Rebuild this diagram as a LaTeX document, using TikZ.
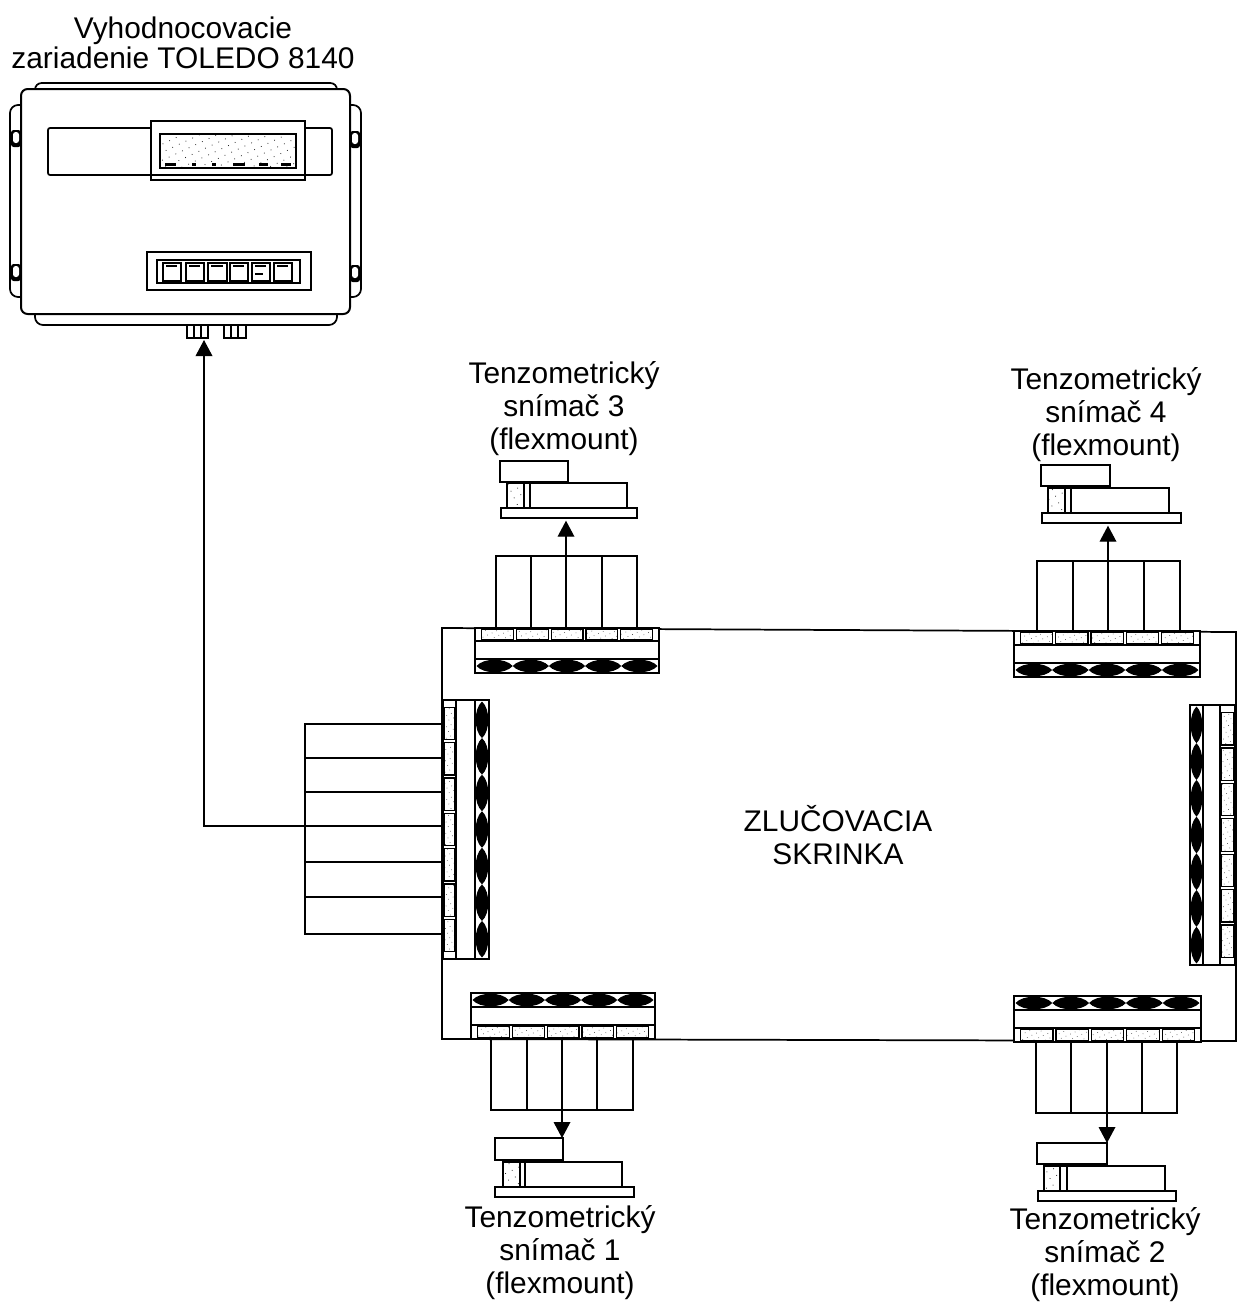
\documentclass[tikz,border=0pt]{standalone}
\usepackage{fontspec}
\setmainfont{Liberation Sans}
\usetikzlibrary{fit,arrows.meta,patterns.meta}
\tikzset{
  px/.style={x=.75pt,y=-.75pt},
  ln/.style={draw=black,line width=1.3pt},
  thin ln/.style={draw=black,line width=.9pt},
  bx/.style={ln,inner sep=0pt,outer sep=0pt,rectangle},
  speck/.style={pattern={Dots[distance=3.8pt,radius=.32pt,angle=25]},pattern color=black!80},
  sparse speck/.style={pattern={Dots[distance=5.5pt,radius=.42pt,angle=25]},pattern color=black!85},
  wire/.style={draw=black,line width=1pt},
  feed/.style={wire,-{Triangle[length=12pt,width=12.5pt]}},
  lbl/.style={align=center,font=\fontsize{22.4pt}{24.7pt}\selectfont,inner sep=0pt,text=black}
}
% terminal strip: #1,#2 long axis range; #3 outer edge, #4 cell/blank edge, #5 blank/oval edge, #6 oval outer edge
% #7 number of cells, #8 cell inset at the ends
\newcommand{\tstrip}[8]{%
  \draw[ln,fill=white] (#1,#3) rectangle (#2,#6);
  \draw[ln] (#1,#4) -- (#2,#4);
  \draw[ln] (#1,#5) -- (#2,#5);
  \pgfmathsetmacro{\pitch}{(#2-#1-2*#8)/#7}
  \foreach \k in {1,...,#7}{
    \pgfmathsetmacro{\ca}{#1+#8+(\k-1)*\pitch+1.5}
    \pgfmathsetmacro{\cb}{#1+#8+\k*\pitch-1.5}
    \pgfmathsetmacro{\oa}{#1+1.5+(\k-1)*(#2-#1-3)/#7}
    \pgfmathsetmacro{\ob}{#1+1.5+\k*(#2-#1-3)/#7}
    \pgfmathsetmacro{\om}{(#5+#6)/2}
    \pgfmathsetmacro{\xa}{\oa+.2*(\ob-\oa)}
    \pgfmathsetmacro{\xb}{\oa+.8*(\ob-\oa)}
    \pgfmathsetmacro{\cu}{\om-(#6-#5)*.6}
    \pgfmathsetmacro{\cd}{\om+(#6-#5)*.6}
    \pgfmathsetmacro{\ia}{#3+0.1*(#4-#3)}
    \pgfmathsetmacro{\ib}{#4-0.1*(#4-#3)}
    \draw[thin ln,speck] (\ca,\ia) rectangle (\cb,\ib);
    \fill[black] (\oa,\om) .. controls (\xa,\cu) and (\xb,\cu) .. (\ob,\om)
       .. controls (\xb,\cd) and (\xa,\cd) .. (\oa,\om) -- cycle;
  }
}
% flexmount sensor body and base
\newcommand{\sensor}[9]{%
  % #1 id, #2 x-col0, #3 x-col-divider, #4 x-main0, #5 x-main1, #6 y-top of main, #7 y-base-top, #8 base x0, #9 base x1
  \draw[ln,sparse speck] (#2,#6) rectangle (#3,#7);
  \draw[ln,fill=white] (#3,#6) rectangle (#4,#7);
  \draw[ln,fill=white] (#4,#6) rectangle (#5,#7);
  \node[bx,fill=white,fit={(#8,#7)(#9,#7+10)}] (base#1) {};
}
\begin{document}
\begin{tikzpicture}[px]
\useasboundingbox (0,0) rectangle (1237,1304);
\fill[white] (0,0) rectangle (1237,1304);

% ---------- evaluation unit ----------
\draw[ln,rounded corners=5pt] (35,95) -- (35,83) -- (337,83) -- (337,95);
\draw[ln,rounded corners=6pt] (35,310) -- (35,325) -- (337,325) -- (337,310);
\draw[ln,rounded corners=6pt] (21,105) -- (10,105) -- (10,297) -- (21,297);
\draw[ln,rounded corners=6pt] (350,105) -- (361,105) -- (361,297) -- (350,297);
\foreach \yy in {130,264}{
  \fill[black,rounded corners=2pt] (11,\yy) rectangle (21,\yy+17);
  \fill[white,rounded corners=2pt] (13,\yy+2) rectangle (19,\yy+13);
  \fill[black,rounded corners=2pt] (350,\yy+1) rectangle (360,\yy+18);
  \fill[white,rounded corners=2pt] (352,\yy+3) rectangle (358,\yy+14);
}
\node[bx,fill=white,rounded corners=5pt,line width=1.5pt,fit={(21,89)(350,314)}] (unit) {};
\draw[ln,rounded corners=1.5pt] (151,128) -- (48,128) -- (48,175) -- (332,175) -- (332,128) -- (305,128);
\node[bx,fit={(151,121)(305,180)}] (dispouter) {};
\node[bx,sparse speck,line width=1.6pt,fit={(160,134)(296,168)}] (display) {};
\foreach \a/\b in {165/176,192/196,212/216,233/245,259/268,281/291}
  \fill[black] (\a,163) rectangle (\b,166);
\node[bx,line width=1.5pt,fit={(147,252)(311,290)}] (panel) {};
\node[bx,line width=1.7pt,fit={(157,260)(300,283)}] (keys) {};
\foreach \n/\a/\b in {1/163/181,2/186/204,3/208/227,4/230/248,5/252/270,6/274/292}{
  \node[bx,line width=1.3pt,fit={(\a,263)(\b,281)}] (key\n) {};
  \fill[black] (\a+3,265) rectangle (\b-4,267);
}
\fill[black] (255,273) rectangle (263,275);
\node[bx,line width=1.7pt,fit={(187,325)(208,338)}] (gland1) {};
\draw[line width=2pt] (194,325) -- (194,338) (201,325) -- (201,338);
\node[bx,line width=1.7pt,fit={(224,325)(246,338)}] (gland2) {};
\draw[line width=2pt] (231,325) -- (231,338) (238,325) -- (238,338);

% ---------- junction box ----------
\coordinate (ja) at (442,628);
\coordinate (jb) at (1236,632);
\coordinate (jc) at (1236,1041);
\coordinate (jd) at (442,1039);
\draw[ln] (ja) -- (jb) -- (jc) -- (jd) -- cycle;

% top-left / top-right / bottom-left / bottom-right strips
\tstrip{475}{659}{628}{641}{659}{673}{5}{5}
\tstrip{1014}{1200}{631}{645}{663}{677}{5}{5}
\tstrip{471}{655}{1039}{1025}{1007}{993}{5}{5}
\tstrip{1014}{1201}{1042}{1028}{1010}{996}{5}{5}
% left and right strips (axes swapped)
\begin{scope}[x={(0pt,-.75pt)},y={(.75pt,0pt)}]
\tstrip{700}{959}{443}{456}{475}{489}{7}{6}
\tstrip{705}{965}{1235}{1220}{1203}{1190}{7}{6}
\end{scope}

% cable bundles
\draw[ln] (496,628) -- (496,556) -- (637,556) -- (637,628)
          (531,556) -- (531,628) (602,556) -- (602,628);
\draw[ln] (1037,630) -- (1037,561) -- (1180,561) -- (1180,631)
          (1073,561) -- (1073,630) (1144,561) -- (1144,631);
\draw[ln] (491,1039) -- (491,1110) -- (633,1110) -- (633,1039)
          (527,1039) -- (527,1110) (597,1039) -- (597,1110);
\draw[ln] (1036,1042) -- (1036,1113) -- (1177,1113) -- (1177,1042)
          (1071,1042) -- (1071,1113) (1142,1042) -- (1142,1113);
\draw[ln] (442,724) -- (305,724) -- (305,934) -- (442,934)
          (305,758) -- (442,758) (305,792) -- (442,792)
          (305,862) -- (442,862) (305,897) -- (442,897);

% sensors
\sensor{3}{507}{524}{530}{627}{483}{508}{501}{637}
\node[bx,fill=white,fit={(500,461)(568,482)}] (head3) {};
\sensor{4}{1048}{1065}{1071}{1169}{488}{513}{1042}{1181}
\node[bx,fill=white,fit={(1041,465)(1110,486)}] (head4) {};
\sensor{1}{503}{520}{525}{622}{1162}{1187}{495}{634}
\node[bx,fill=white,fit={(495,1138)(563,1160)}] (head1) {};
\sensor{2}{1044}{1060}{1067}{1165}{1166}{1191}{1038}{1176}
\node[bx,fill=white,fit={(1037,1143)(1107,1164)}] (head2) {};

% connectors
\coordinate (out3) at (566,628);
\coordinate (out4) at (1108,630);
\coordinate (out1) at (562,1039);
\coordinate (out2) at (1107,1042);
\coordinate (outmain) at (442,826);
\coordinate (inmain) at (204,340);
\draw[feed,shorten >=2pt] (out3) -- (out3 |- base3.south);
\draw[feed,shorten >=2pt] (out4) -- (out4 |- base4.south);
\draw[feed] (out1) -- (out1 |- head1.north);
\draw[feed] (out2) -- (out2 |- head2.north);
\draw[feed] (outmain) -| (inmain);

% labels
\node[lbl] (tunit) at (183,43) {Vyhodnocovacie\\[-2.2pt]zariadenie TOLEDO 8140};
\node[lbl] (t3) at (564,408.5) {Tenzometrický\\snímač 3\\(flexmount)};
\node[lbl] (t4) at (1106,414.5) {Tenzometrický\\snímač 4\\(flexmount)};
\node[lbl] (t1) at (560,1253) {Tenzometrický\\snímač 1\\(flexmount)};
\node[lbl] (t2) at (1105,1255) {Tenzometrický\\snímač 2\\(flexmount)};
\node[lbl] (tbox) at (838,835.5) {ZLUČOVACIA\\SKRINKA};
\end{tikzpicture}
\end{document}
